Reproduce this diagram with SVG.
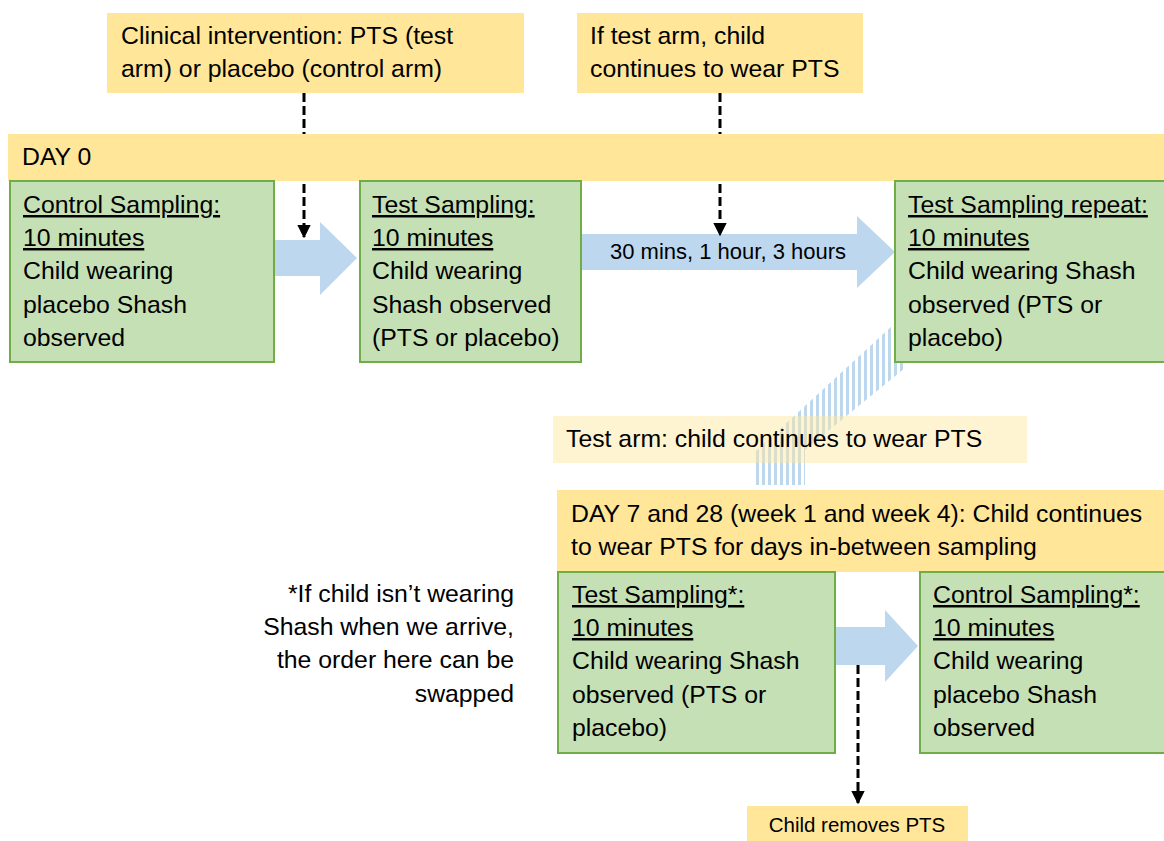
<svg xmlns="http://www.w3.org/2000/svg" width="1164" height="841" viewBox="0 0 1164 841">
<defs>
<style>
.t{font-family:"Liberation Sans",Arial,sans-serif;font-size:24.8px;fill:#000}
.u{text-decoration:underline}
.y{fill:#FFE699}
.g{fill:#C5E0B4;stroke:#70AD47;stroke-width:2}
.ba{fill:#BDD7EE}
.d{stroke:#000;stroke-width:3;stroke-dasharray:9 4;fill:none}
</style>
<pattern id="stripes" width="6" height="10" patternUnits="userSpaceOnUse">
<rect x="0" y="0" width="3" height="10" fill="#BDD7EE"/>
</pattern>
<marker id="ah" viewBox="0 0 10 10" refX="9" refY="5" markerWidth="4.5" markerHeight="4.5" orient="auto" markerUnits="strokeWidth">
<path d="M0,0 L10,5 L0,10 z" fill="#000"/>
</marker>
</defs>
<rect width="1164" height="841" fill="#fff"/>

<g id="connectors">
<polygon class="ba" points="274,240 320,240 320,222 357,258 320,295 320,276 274,276"/>
<polygon class="ba" points="581,234 857,234 857,216 895,252 857,288 857,270 581,270"/>
<text class="t" x="728" y="259" text-anchor="middle" style="font-size:22px">30 mins, 1 hour, 3 hours</text>
<polygon class="ba" points="835,627 885,627 885,610 918,646 885,682 885,665 835,665"/>
<polygon fill="url(#stripes)" points="893,325 905,325 905,368 805,450 805,485 755,485 755,452"/>
<line class="d" x1="304" y1="93" x2="304" y2="237" marker-end="url(#ah)"/>
<line class="d" x1="720" y1="93" x2="720" y2="235" marker-end="url(#ah)"/>
<line class="d" x1="858" y1="665" x2="858" y2="803" marker-end="url(#ah)"/>
</g>

<g id="intervention">
<rect class="y" x="107" y="13" width="417" height="80"/>
<text class="t" x="121" y="44">Clinical intervention: PTS (test</text>
<text class="t" x="121" y="77">arm) or placebo (control arm)</text>
</g>

<g id="testarm-continues">
<rect class="y" x="577" y="13" width="286" height="80"/>
<text class="t" x="590" y="44">If test arm, child</text>
<text class="t" x="590" y="77">continues to wear PTS</text>
</g>

<g id="day0">
<rect class="y" x="8" y="134" width="1156" height="47"/>
<text class="t" x="22" y="165">DAY 0</text>
</g>

<g id="control-sampling-day0">
<rect class="g" x="10" y="181" width="264" height="181"/>
<text class="t u" x="23" y="213">Control Sampling:</text>
<text class="t u" x="23" y="246">10 minutes</text>
<text class="t" x="23" y="279">Child wearing</text>
<text class="t" x="23" y="313">placebo Shash</text>
<text class="t" x="23" y="346">observed</text>
</g>

<g id="test-sampling-day0">
<rect class="g" x="360" y="181" width="221" height="181"/>
<text class="t u" x="372" y="213">Test Sampling:</text>
<text class="t u" x="372" y="246">10 minutes</text>
<text class="t" x="372" y="279">Child wearing</text>
<text class="t" x="372" y="313">Shash observed</text>
<text class="t" x="372" y="346">(PTS or placebo)</text>
</g>

<g id="test-sampling-repeat">
<rect class="g" x="895" y="181" width="275" height="181"/>
<text class="t u" x="908" y="213">Test Sampling repeat:</text>
<text class="t u" x="908" y="246">10 minutes</text>
<text class="t" x="908" y="279">Child wearing Shash</text>
<text class="t" x="908" y="313">observed (PTS or</text>
<text class="t" x="908" y="346">placebo)</text>
</g>

<g id="testarm-label">
<rect x="553" y="416" width="474" height="47" fill="#FFE699" opacity="0.45"/>
<text class="t" x="566" y="447">Test arm: child continues to wear PTS</text>
</g>

<g id="day7-28">
<rect class="y" x="557" y="490" width="607" height="82"/>
<text class="t" x="571" y="522">DAY 7 and 28 (week 1 and week 4): Child continues</text>
<text class="t" x="571" y="555">to wear PTS for days in-between sampling</text>
</g>

<g id="note">
<text class="t" x="514" y="602" text-anchor="end">*If child isn’t wearing</text>
<text class="t" x="514" y="635" text-anchor="end">Shash when we arrive,</text>
<text class="t" x="514" y="668" text-anchor="end">the order here can be</text>
<text class="t" x="514" y="702" text-anchor="end">swapped</text>
</g>

<g id="test-sampling-week">
<rect class="g" x="558" y="572" width="277" height="181"/>
<text class="t u" x="572" y="603">Test Sampling*:</text>
<text class="t u" x="572" y="636">10 minutes</text>
<text class="t" x="572" y="669">Child wearing Shash</text>
<text class="t" x="572" y="703">observed (PTS or</text>
<text class="t" x="572" y="736">placebo)</text>
</g>

<g id="control-sampling-week">
<rect class="g" x="920" y="572" width="250" height="181"/>
<text class="t u" x="933" y="603">Control Sampling*:</text>
<text class="t u" x="933" y="636">10 minutes</text>
<text class="t" x="933" y="669">Child wearing</text>
<text class="t" x="933" y="703">placebo Shash</text>
<text class="t" x="933" y="736">observed</text>
</g>

<g id="child-removes">
<rect class="y" x="747" y="806" width="221" height="40"/>
<text class="t" x="857" y="832" text-anchor="middle" style="font-size:20.5px">Child removes PTS</text>
</g>
</svg>
